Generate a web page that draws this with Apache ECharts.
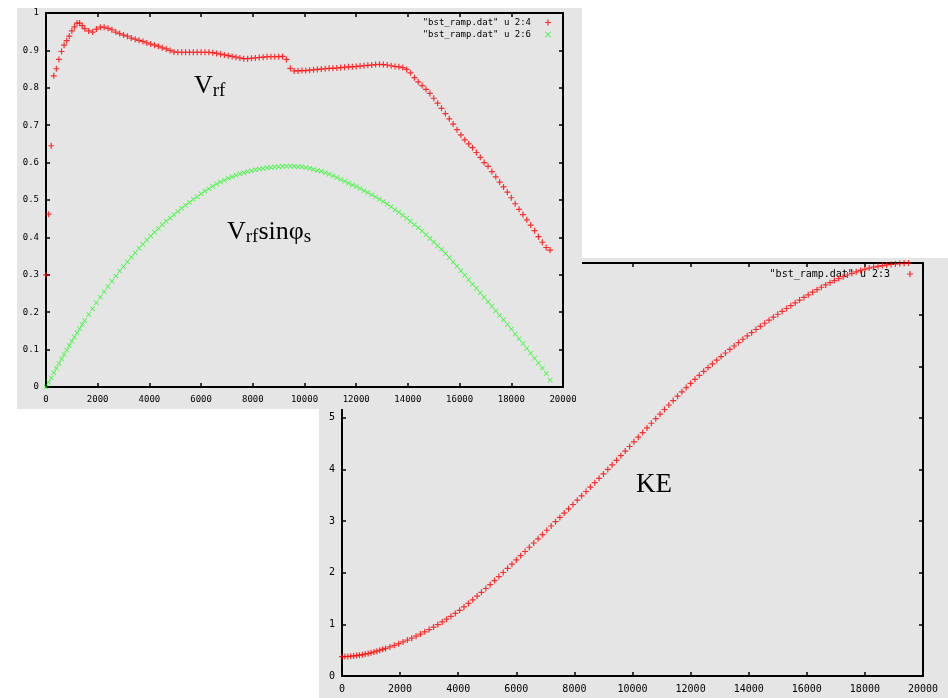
<!DOCTYPE html>
<html>
<head>
<meta charset="utf-8">
<script src="https://cdn.jsdelivr.net/npm/echarts@6/dist/echarts.min.js"></script>
<style>
  html, body { margin: 0; padding: 0; background: #ffffff; }
  #chart { width: 948px; height: 698px; }
</style>
</head>
<body>
<div id="chart"></div>
<script>
// Booster ramp: turn number (column 2 of bst_ramp.dat)
const turns = [
  0, 100, 200, 300, 400, 500, 600, 700, 800, 900, 1000, 1100, 1200, 1300, 1400, 1500,
  1650, 1800, 1950, 2100, 2250, 2400, 2550, 2700, 2850, 3000,
  3150, 3300, 3450, 3600, 3750, 3900, 4050, 4200, 4350, 4500,
  4650, 4800, 4950, 5100, 5250, 5400, 5550, 5700, 5850, 6000,
  6150, 6300, 6450, 6600, 6750, 6900, 7050, 7200, 7350, 7500,
  7650, 7800, 7950, 8100, 8250, 8400, 8550, 8700, 8850, 9000,
  9150, 9300, 9450, 9600, 9750, 9900, 10050, 10200, 10350, 10500,
  10650, 10800, 10950, 11100, 11250, 11400, 11550, 11700, 11850, 12000,
  12150, 12300, 12450, 12600, 12750, 12900, 13050, 13200, 13350, 13500,
  13650, 13800, 13950, 14100, 14250, 14400, 14550, 14700, 14850, 15000,
  15150, 15300, 15450, 15600, 15750, 15900, 16050, 16200, 16350, 16500,
  16650, 16800, 16950, 17100, 17250, 17400, 17550, 17700, 17850, 18000,
  18150, 18300, 18450, 18600, 18750, 18900, 19050, 19200, 19350, 19500
];

// Column 4: normalised RF voltage
const vrf = [
  0.300, 0.462, 0.645, 0.832, 0.851, 0.876, 0.897, 0.914, 0.926, 0.938, 0.952, 0.963, 0.973, 0.973, 0.966, 0.958,
  0.952, 0.949, 0.957, 0.962, 0.962, 0.959, 0.955, 0.949, 0.945, 0.941,
  0.938, 0.933, 0.930, 0.927, 0.924, 0.920, 0.917, 0.914, 0.911, 0.907,
  0.904, 0.900, 0.896, 0.895, 0.895, 0.895, 0.895, 0.895, 0.895, 0.895,
  0.895, 0.895, 0.894, 0.892, 0.890, 0.888, 0.886, 0.884, 0.882, 0.880,
  0.878, 0.878, 0.879, 0.880, 0.881, 0.882, 0.883, 0.883, 0.883, 0.883,
  0.884, 0.876, 0.852, 0.845, 0.845, 0.846, 0.846, 0.847, 0.848, 0.849,
  0.850, 0.851, 0.852, 0.852, 0.853, 0.854, 0.855, 0.856, 0.856, 0.857,
  0.858, 0.859, 0.860, 0.861, 0.862, 0.863, 0.862, 0.861, 0.859, 0.857,
  0.856, 0.854, 0.849, 0.840, 0.827, 0.816, 0.806, 0.796, 0.785, 0.772,
  0.759, 0.745, 0.731, 0.717, 0.703, 0.688, 0.674, 0.661, 0.650, 0.640,
  0.627, 0.614, 0.600, 0.590, 0.576, 0.562, 0.548, 0.535, 0.521, 0.506,
  0.490, 0.475, 0.461, 0.447, 0.433, 0.418, 0.402, 0.387, 0.373, 0.366
];

// Column 6: Vrf * sin(phi_s)
const vrfSinPhi = [
  0.000, 0.013, 0.025, 0.038, 0.050, 0.063, 0.075, 0.087, 0.099, 0.111, 0.122, 0.134, 0.145, 0.156, 0.167, 0.178,
  0.194, 0.209, 0.225, 0.240, 0.255, 0.269, 0.283, 0.297, 0.310, 0.322,
  0.335, 0.347, 0.359, 0.371, 0.382, 0.393, 0.404, 0.414, 0.424, 0.434,
  0.443, 0.452, 0.461, 0.469, 0.478, 0.486, 0.494, 0.502, 0.509, 0.517,
  0.524, 0.530, 0.537, 0.543, 0.548, 0.553, 0.558, 0.562, 0.566, 0.570,
  0.573, 0.576, 0.578, 0.581, 0.583, 0.584, 0.586, 0.587, 0.588, 0.589,
  0.590, 0.590, 0.590, 0.590, 0.589, 0.589, 0.587, 0.585, 0.582, 0.579,
  0.577, 0.573, 0.569, 0.565, 0.560, 0.555, 0.550, 0.545, 0.540, 0.536,
  0.531, 0.525, 0.520, 0.514, 0.508, 0.502, 0.496, 0.489, 0.482, 0.474,
  0.467, 0.459, 0.451, 0.443, 0.434, 0.426, 0.417, 0.407, 0.397, 0.388,
  0.378, 0.368, 0.357, 0.346, 0.334, 0.323, 0.311, 0.299, 0.287, 0.275,
  0.264, 0.252, 0.240, 0.228, 0.216, 0.204, 0.192, 0.180, 0.167, 0.155,
  0.142, 0.129, 0.116, 0.103, 0.090, 0.077, 0.064, 0.051, 0.036, 0.018
];

// Column 3: kinetic energy (GeV)
const kineticEnergy = [
  0.375, 0.376, 0.379, 0.383, 0.389, 0.396, 0.404, 0.414, 0.424, 0.436, 0.449, 0.465, 0.481, 0.499, 0.517, 0.535,
  0.563, 0.594, 0.626, 0.660, 0.695, 0.732, 0.771, 0.812, 0.855, 0.900,
  0.948, 0.997, 1.048, 1.101, 1.156, 1.213, 1.272, 1.338, 1.406, 1.476,
  1.548, 1.621, 1.695, 1.771, 1.848, 1.926, 2.005, 2.085, 2.166, 2.248,
  2.330, 2.412, 2.494, 2.576, 2.658, 2.740, 2.823, 2.906, 2.989, 3.072,
  3.155, 3.238, 3.322, 3.406, 3.490, 3.574, 3.659, 3.744, 3.829, 3.915,
  4.002, 4.090, 4.178, 4.267, 4.356, 4.446, 4.536, 4.626, 4.716, 4.806,
  4.896, 4.985, 5.074, 5.162, 5.249, 5.335, 5.420, 5.504, 5.586, 5.667,
  5.747, 5.825, 5.901, 5.975, 6.047, 6.118, 6.188, 6.257, 6.325, 6.392,
  6.458, 6.523, 6.587, 6.650, 6.712, 6.773, 6.833, 6.892, 6.950, 7.007,
  7.063, 7.119, 7.174, 7.228, 7.281, 7.333, 7.384, 7.434, 7.483, 7.530,
  7.575, 7.618, 7.659, 7.698, 7.735, 7.768, 7.800, 7.830, 7.857, 7.881,
  7.902, 7.920, 7.936, 7.950, 7.962, 7.972, 7.981, 7.989, 7.995, 8.000
];

const seriesNames = {
  vrf: '"bst_ramp.dat" u 2:4',
  vrfSinPhi: '"bst_ramp.dat" u 2:6',
  ke: '"bst_ramp.dat" u 2:3'
};

const MONO = '"DejaVu Sans Mono", "Liberation Mono", monospace';
const SERIF = '"Liberation Serif", "DejaVu Serif", serif';
// gnuplot point types: "+" and "x"
const PLUS = 'path://M4,0H6V10H4Z M0,4H10V6H0Z';
const CROSS = 'path://M0,1L1,0L10,9L9,10Z M9,0L10,1L1,10L0,9Z';

const pairs = (ys) => turns.map((t, i) => [t, ys[i]]);

// Boxed gnuplot-style frame: labelled bottom/left axes, mirrored ticks on top/right.
function frame(gridIndex, xRange, yRange, fontSize, z) {
  const line = { show: true, onZero: false, lineStyle: { color: '#000', width: 2 } };
  const tick = { show: true, inside: true, length: 4, lineStyle: { color: '#000', width: 1.5 } };
  const label = { color: '#000', fontFamily: MONO, fontSize: fontSize, margin: 8,
                  showMinLabel: true, showMaxLabel: true, formatter: (v) => String(v) };
  const base = { gridIndex, type: 'value', splitLine: { show: false }, axisLine: line, axisTick: tick, z };
  return {
    x: [
      Object.assign({}, base, xRange, { position: 'bottom', axisLabel: label }),
      Object.assign({}, base, xRange, { position: 'top', axisLabel: { show: false } })
    ],
    y: [
      Object.assign({}, base, yRange, { position: 'left', axisLabel: Object.assign({}, label, { margin: 7 }) }),
      Object.assign({}, base, yRange, { position: 'right', axisLabel: { show: false } })
    ]
  };
}

const upper = frame(0, { min: 0, max: 20000, interval: 2000 }, { min: 0, max: 1, interval: 0.1 }, 9, 11);
const lower = frame(1, { min: 0, max: 20000, interval: 2000 }, { min: 0, max: 8, interval: 1 }, 10, 2);

const chart = echarts.init(document.getElementById('chart'), null, { renderer: 'canvas' });

chart.setOption({
  animation: false,
  backgroundColor: '#ffffff',
  grid: [
    { left: 46, top: 13, width: 517, height: 374, outerBoundsMode: 'none', containLabel: false },
    { left: 342, top: 263, width: 581, height: 413, outerBoundsMode: 'none', containLabel: false }
  ],
  xAxis: upper.x.concat(lower.x),
  yAxis: upper.y.concat(lower.y),
  legend: [
    {
      data: [seriesNames.vrf, seriesNames.vrfSinPhi],
      orient: 'vertical', align: 'right', right: 397, top: 18,
      itemWidth: 24, itemHeight: 6, itemGap: 3, padding: 0,
      selectedMode: false, z: 12,
      textStyle: { fontFamily: MONO, fontSize: 9, color: '#000' }
    },
    {
      data: [seriesNames.ke],
      orient: 'vertical', align: 'right', right: 35, top: 269,
      itemWidth: 30, itemHeight: 6, padding: 0,
      selectedMode: false, z: 3,
      textStyle: { fontFamily: MONO, fontSize: 10, color: '#000' }
    }
  ],
  graphic: [
    { type: 'rect', z: 1, shape: { x: 319, y: 258, width: 629, height: 440 }, style: { fill: '#e5e5e5' } },
    { type: 'rect', z: 10, shape: { x: 17, y: 8, width: 565, height: 401 }, style: { fill: '#e5e5e5' } },
    {
      type: 'text', z: 12, x: 194, y: 71,
      style: {
        text: '{m|V}{s|rf}', fill: '#000', textVerticalAlign: 'top',
        rich: {
          m: { fontFamily: SERIF, fontSize: 26, lineHeight: 30 },
          s: { fontFamily: SERIF, fontSize: 19, lineHeight: 16, verticalAlign: 'bottom' }
        }
      }
    },
    {
      type: 'text', z: 12, x: 227, y: 217,
      style: {
        text: '{m|V}{s|rf}{m|sinφ}{s|s}', fill: '#000', textVerticalAlign: 'top',
        rich: {
          m: { fontFamily: SERIF, fontSize: 26, lineHeight: 30 },
          s: { fontFamily: SERIF, fontSize: 19, lineHeight: 16, verticalAlign: 'bottom' }
        }
      }
    },
    {
      type: 'text', z: 3, x: 636, y: 471,
      style: { text: 'KE', fill: '#000', fontFamily: SERIF, fontSize: 27, textVerticalAlign: 'top' }
    }
  ],
  series: [
    {
      name: seriesNames.ke, type: 'scatter', xAxisIndex: 2, yAxisIndex: 2,
      data: pairs(kineticEnergy), symbol: PLUS, symbolSize: 6,
      itemStyle: { color: '#ff0000' }, z: 3, silent: true, clip: false
    },
    {
      name: seriesNames.vrf, type: 'scatter', xAxisIndex: 0, yAxisIndex: 0,
      data: pairs(vrf), symbol: PLUS, symbolSize: 6,
      itemStyle: { color: '#ff0000' }, z: 12, silent: true, clip: false
    },
    {
      name: seriesNames.vrfSinPhi, type: 'scatter', xAxisIndex: 0, yAxisIndex: 0,
      data: pairs(vrfSinPhi), symbol: CROSS, symbolSize: 5,
      itemStyle: { color: '#00ff00' }, z: 12, silent: true, clip: false
    }
  ]
});
</script>
</body>
</html>
